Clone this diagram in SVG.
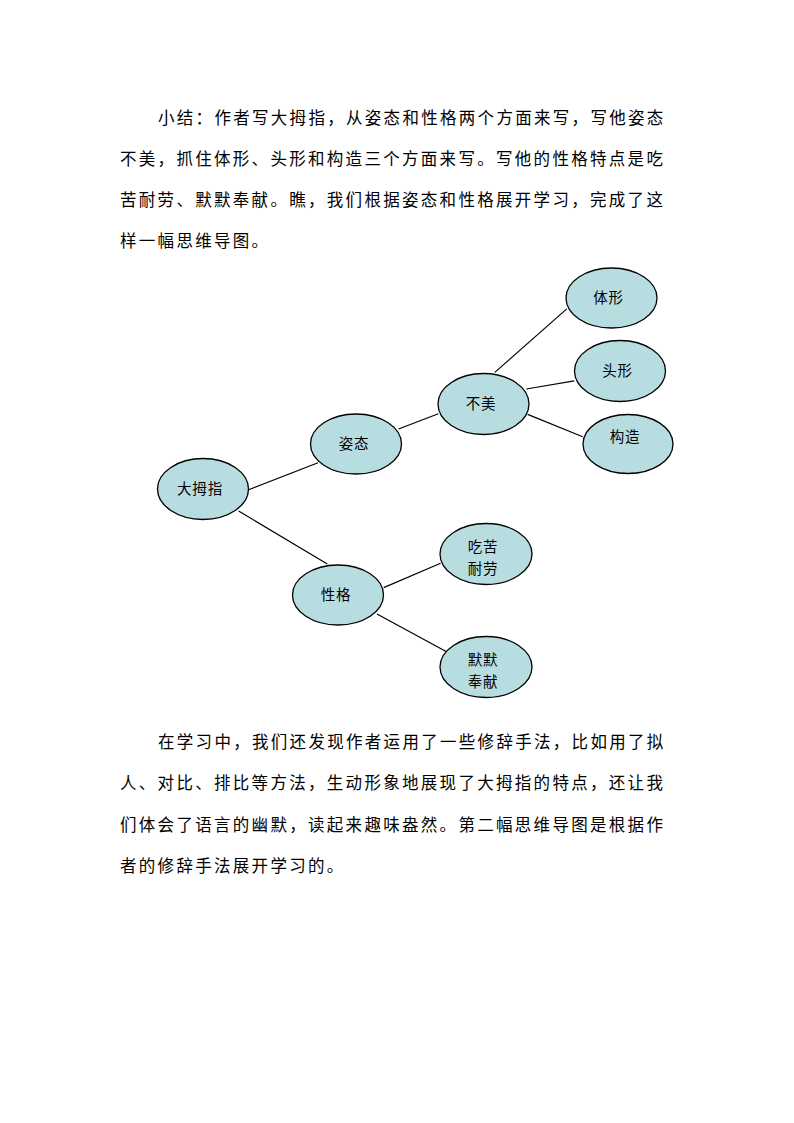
<svg xmlns="http://www.w3.org/2000/svg" width="794" height="1123" viewBox="0 0 794 1123">
<style>
.p{font-family:"Noto Sans CJK SC","Noto Sans",sans-serif;font-size:16.5px;letter-spacing:2.3px;fill:#000}
.n ellipse{fill:#b8dde1;stroke:#000;stroke-width:1.3}
.n text{font-family:"Noto Sans CJK SC","Noto Sans",sans-serif;font-size:14.5px;letter-spacing:0.8px;fill:#000;text-anchor:middle}
.c line{stroke:#000;stroke-width:1.2}
</style>
<rect width="794" height="1123" fill="#fff"/>
<g id="para1">
<text class="p" x="158" y="124">小结：作者写大拇指，从姿态和性格两个方面来写，写他姿态</text>
<text class="p" x="120" y="165">不美，抓住体形、头形和构造三个方面来写。写他的性格特点是吃</text>
<text class="p" x="120" y="206">苦耐劳、默默奉献。瞧，我们根据姿态和性格展开学习，完成了这</text>
<text class="p" x="120" y="247">样一幅思维导图。</text>
</g>
<g id="connectors" class="c">
<line x1="248.7" y1="489.7" x2="318" y2="462.7"/>
<line x1="398.5" y1="429" x2="438.4" y2="413.7"/>
<line x1="494.8" y1="372.4" x2="566.8" y2="308.9"/>
<line x1="526.3" y1="389" x2="574.3" y2="380.9"/>
<line x1="527.6" y1="414.4" x2="582.7" y2="436.7"/>
<line x1="238.6" y1="511" x2="327.3" y2="564"/>
<line x1="383.7" y1="587.6" x2="440.6" y2="563.2"/>
<line x1="377" y1="614" x2="447" y2="652"/>
</g>
<g id="node-damuzhi" class="n"><ellipse cx="203" cy="489" rx="45.5" ry="30.5"/><text x="200" y="494">大拇指</text></g>
<g id="node-zitai" class="n"><ellipse cx="356" cy="444" rx="45.5" ry="30"/><text x="354" y="449">姿态</text></g>
<g id="node-bumei" class="n"><ellipse cx="483.5" cy="404" rx="45.5" ry="30.5"/><text x="481" y="409">不美</text></g>
<g id="node-tixing" class="n"><ellipse cx="611.5" cy="298" rx="45.5" ry="30"/><text x="608.5" y="303">体形</text></g>
<g id="node-touxing" class="n"><ellipse cx="620" cy="371" rx="45.5" ry="30.5"/><text x="617.5" y="376">头形</text></g>
<g id="node-gouzao" class="n"><ellipse cx="628" cy="444" rx="45" ry="29.5"/><text x="625" y="442">构造</text></g>
<g id="node-xingge" class="n"><ellipse cx="338" cy="595" rx="45.5" ry="30"/><text x="336" y="600">性格</text></g>
<g id="node-chiku" class="n"><ellipse cx="486" cy="554" rx="46" ry="30.5"/><text x="483" y="552">吃苦</text><text x="483" y="574">耐劳</text></g>
<g id="node-momo" class="n"><ellipse cx="486" cy="667" rx="46" ry="30.5"/><text x="483" y="665">默默</text><text x="483" y="687">奉献</text></g>
<g id="para2">
<text class="p" x="158" y="748">在学习中，我们还发现作者运用了一些修辞手法，比如用了拟</text>
<text class="p" x="120" y="789">人、对比、排比等方法，生动形象地展现了大拇指的特点，还让我</text>
<text class="p" x="120" y="830.5">们体会了语言的幽默，读起来趣味盎然。第二幅思维导图是根据作</text>
<text class="p" x="120" y="872">者的修辞手法展开学习的。</text>
</g>
</svg>
